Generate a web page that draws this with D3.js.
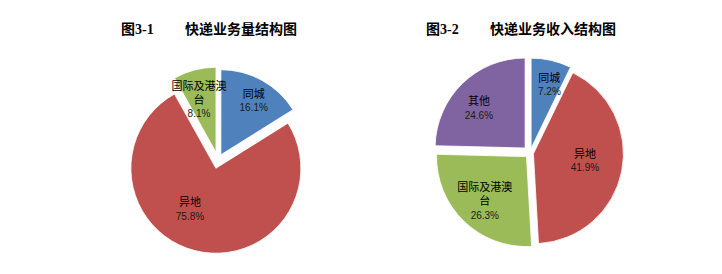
<!DOCTYPE html>
<html><head><meta charset="utf-8">
<script src="https://cdn.jsdelivr.net/npm/d3@7/dist/d3.min.js"></script>
<style>body{margin:0;background:#fff}svg{display:block}</style>
</head><body>
<svg id="c" width="722" height="274"></svg>
<script>
// ---- data ----
const titles1 = ["图3-1", "快递业务量结构图"];
const cats1 = ["同城", "异地", "国际及港澳台"];
const vals1 = [16.1, 75.8, 8.1];

const titles2 = ["图3-2", "快递业务收入结构图"];
const cats2 = ["同城", "异地", "国际及港澳台", "其他"];
const vals2 = [7.2, 41.9, 26.3, 24.6];

// ---- style ----
const colors1 = ["#4F81BD", "#C0504D", "#9BBB59"];
const colors2 = ["#4F81BD", "#C0504D", "#9BBB59", "#8064A2"];
const svg = d3.select("#c");

function drawPie(cfg) {
  const g = svg.append("g").attr("transform", `translate(${cfg.cx},${cfg.cy})`);
  const pie = d3.pie().sort(null).value(d => d.v);
  const arcs = pie(cfg.cats.map((c, i) => ({c, v: cfg.vals[i]})));
  const arc = d3.arc().innerRadius(0).outerRadius(cfg.r);
  arcs.forEach((a, i) => {
    const mid = (a.startAngle + a.endAngle) / 2;
    const dx = Math.sin(mid) * cfg.explode[i], dy = -Math.cos(mid) * cfg.explode[i];
    const sg = g.append("g").attr("transform", `translate(${dx},${dy})`);
    sg.append("path").attr("d", arc(a)).attr("fill", cfg.colors[i])
      .attr("stroke", "#fff").attr("stroke-width", 0.8);
    const la = mid + cfg.nudge[i] * Math.PI / 180;
    const lx = Math.sin(la) * cfg.ldist[i], ly = -Math.cos(la) * cfg.ldist[i];
    const lines = cfg.wrap[i] ? cfg.wrap[i] : [a.data.c];
    const all = lines.concat([d3.format(".1f")(a.data.v) + "%"]);
    const n = all.length;
    all.forEach((t, k) => {
      const isPct = k === n - 1;
      sg.append("text")
        .attr("x", lx).attr("y", ly + (k - (n - 1) / 2) * 14)
        .attr("text-anchor", "middle").attr("dominant-baseline", "central")
        .attr("font-family", "'Liberation Sans','Noto Sans CJK SC',sans-serif")
        .attr("font-size", isPct ? 10 : 11)
        .attr("fill", isPct ? "#1a1a1a" : "#000")
        .text(t);
    });
  });
  // title
  const tf = "'Liberation Serif','Noto Sans CJK SC',serif";
  svg.append("text").attr("x", cfg.tx[0]).attr("y", 34).attr("font-family", tf)
    .attr("font-weight", "bold").attr("font-size", 14).attr("fill", "#000").text(cfg.titles[0]);
  svg.append("text").attr("x", cfg.tx[1]).attr("y", 34).attr("font-family", tf)
    .attr("font-weight", "bold").attr("font-size", 14).attr("fill", "#000").text(cfg.titles[1]);
}

drawPie({
  cx: 218, cy: 160, r: 85, cats: cats1, vals: vals1, colors: colors1,
  explode: [6, 8.5, 8],
  nudge: [2.4, 18, -3.4], ldist: [63, 48.5, 55],
  wrap: [null, null, ["国际及港澳", "台"]],
  titles: titles1, tx: [121, 185]
});
drawPie({
  cx: 530, cy: 153, r: 90, cats: cats2, vals: vals2, colors: colors2,
  explode: [5, 3.5, 5, 7],
  nudge: [3.1, -3.4, -1, -5], ldist: [66, 52, 61, 61],
  wrap: [null, null, ["国际及港澳", "台"], null],
  titles: titles2, tx: [426, 490]
});
</script>
</body></html>
